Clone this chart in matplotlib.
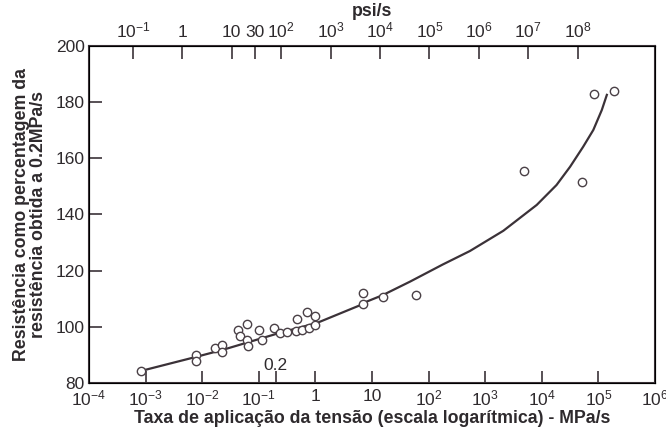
import matplotlib.pyplot as plt
import numpy as np

# measured loading rate (MPa/s) and strength relative to the 0.2 MPa/s strength (%)
rate_mpa = [8.3e-4, 7.8e-3, 7.8e-3, 0.0168, 0.0221, 0.0221, 0.0435, 0.0466,
            0.0611, 0.0611, 0.0652, 0.102, 0.112, 0.186, 0.237, 0.319, 0.454,
            0.468, 0.573, 0.719, 0.771, 0.984, 0.984, 6.93, 6.93, 15.5, 59.8,
            4.9e3, 5.07e4, 8.36e4, 1.91e5]
strength = [84.3, 90.0, 87.8, 92.3, 93.5, 91.1, 98.9, 96.7,
            101.0, 95.3, 93.3, 98.9, 95.3, 99.5, 97.9, 98.3, 98.6,
            102.8, 98.9, 105.2, 99.5, 103.9, 100.6, 111.9, 108.1, 110.7, 111.3,
            155.4, 151.4, 182.8, 183.9]

# fitted trend line
curve_rate = [8.3e-4, 7.8e-3, 0.023, 0.23, 1.07, 6.9, 8.1, 15.5, 47, 178, 537,
              2.09e3, 8.13e3, 1.82e4, 3.16e4, 5.37e4, 8.13e4, 1.148e5, 1.41e5]
curve_strength = [84.3, 89.3, 91.8, 97.8, 101.4, 108.1, 109.0, 111.3, 116.1,
                  122.2, 127.0, 134.2, 143.4, 150.5, 157.0, 164.1, 170.1, 177.2, 182.6]

bottom_ticks = [1e-4, 1e-3, 1e-2, 1e-1, 1, 10, 1e2, 1e3, 1e4, 1e5, 1e6]
bottom_labels = ['$10^{-4}$', '$10^{-3}$', '$10^{-2}$', '$10^{-1}$', '1', '10',
                 '$10^{2}$', '$10^{3}$', '$10^{4}$', '$10^{5}$', '$10^{6}$']
top_ticks = [1e-1, 1, 10, 30, 1e2, 1e3, 1e4, 1e5, 1e6, 1e7, 1e8]
top_labels = ['$10^{-1}$', '1', '10', '30', '$10^{2}$', '$10^{3}$', '$10^{4}$',
              '$10^{5}$', '$10^{6}$', '$10^{7}$', '$10^{8}$']
y_ticks = [80, 100, 120, 140, 160, 180, 200]

plt.rcParams['font.family'] = 'Liberation Sans'
plt.rcParams['mathtext.default'] = 'regular'

ink = '#3b3238'
text_c = '#2e2a2d'

fig = plt.figure(figsize=(6.66, 4.29), dpi=100)
ax = fig.add_axes([0.1336, 0.1072, 0.8499, 0.7856])

ax.plot(curve_rate, curve_strength, color=ink, linewidth=1.6, zorder=2,
        solid_joinstyle='round')
ax.plot(rate_mpa, strength, linestyle='none', marker='o', markersize=6,
        markerfacecolor='white', markeredgecolor='#4a4046', markeredgewidth=1.0, zorder=3)

ax.set_xscale('log')
ax.set_xlim(1e-4, 1e6)
ax.set_ylim(80, 200)
ax.set_xticks(bottom_ticks)
ax.set_xticklabels(bottom_labels)
ax.set_xticks([0.2], minor=True)
ax.xaxis.set_minor_formatter(plt.NullFormatter())
ax.set_yticks(y_ticks)
ax.tick_params(axis='both', which='both', direction='in', length=9, width=1.2,
               color=ink, labelsize=12.5, labelcolor=text_c, pad=4)
ax.tick_params(axis='y', pad=3)
for s in ax.spines.values():
    s.set_color(ink)
    s.set_linewidth(1.5)

ax.text(0.2, 86.4, '0.2', ha='center', va='center', fontsize=12.5, color=text_c)

ax.set_xlabel('Taxa de aplicação da tensão (escala logarítmica) - MPa/s',
              fontsize=12.8, fontweight='bold', color=text_c, labelpad=1)
ax.set_ylabel('Resistência como percentagem da\nresistência obtida a 0.2MPa/s',
              fontsize=12.8, fontweight='bold', color=text_c, labelpad=6, linespacing=1.05)

# psi/s scale along the top
top = ax.twiny()
top.set_xscale('log')
top.set_xlim(10 ** -1.891, 10 ** 9.567)
top.set_xticks(top_ticks)
top.set_xticklabels(top_labels)
top.xaxis.set_minor_locator(plt.NullLocator())
top.tick_params(axis='x', direction='in', length=9, width=1.2, color=ink,
                labelsize=12.5, labelcolor=text_c, pad=4)
top.set_xlabel('psi/s', fontsize=12.8, fontweight='bold', color=text_c, labelpad=3)

fig.savefig('out.png', dpi=100, facecolor='white')
